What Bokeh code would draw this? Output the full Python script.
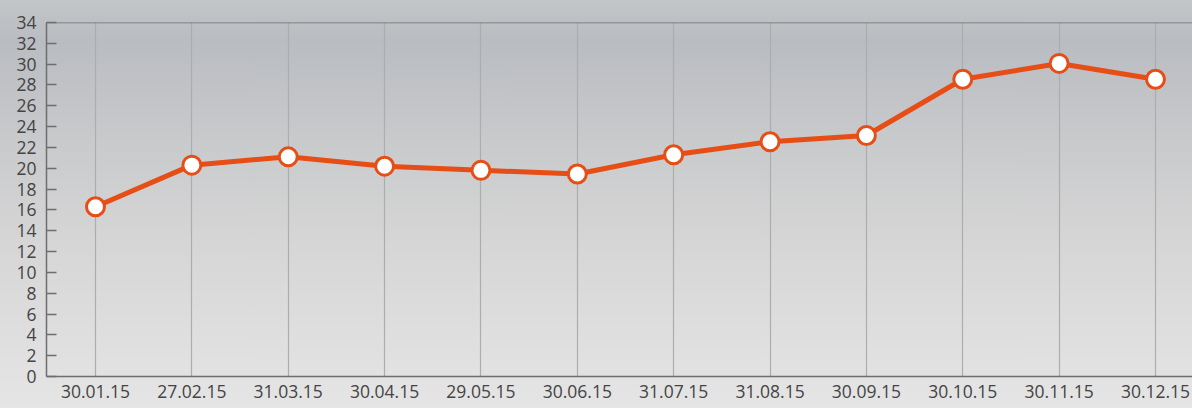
from bokeh.plotting import figure
from bokeh.models import FixedTicker, Span, Range1d, ColumnDataSource
from bokeh.embed import file_html
from bokeh.resources import INLINE

dates = ["30.01.15", "27.02.15", "31.03.15", "30.04.15", "29.05.15", "30.06.15",
         "31.07.15", "31.08.15", "30.09.15", "30.10.15", "30.11.15", "30.12.15"]
values = [16.3, 20.3, 21.1, 20.2, 19.8, 19.45, 21.3, 22.55, 23.15, 28.55, 30.07, 28.55]
y_ticks = list(range(0, 35, 2))

xs = list(range(len(dates)))
src = ColumnDataSource(dict(x=xs, y=values))

FONT = "Open Sans"
ORANGE = "#e64e16"

p = figure(width=1192, height=408, output_backend="svg", toolbar_location=None,
           x_range=Range1d(-0.5085, 11.384), y_range=Range1d(0, 34),
           min_border_left=46, min_border_top=22, min_border_bottom=32, min_border_right=0)
p.styles = {"background": "linear-gradient(to bottom, #c3c6c7 0%, #b9bcc1 10%, #c9cacc 35%, #d6d6d6 60%, #e5e5e5 100%)"}
p.background_fill_alpha = 0
p.border_fill_alpha = 0
p.outline_line_color = None

p.xaxis.ticker = FixedTicker(ticks=xs)
p.xaxis.major_label_overrides = {i: d for i, d in enumerate(dates)}
p.xaxis.major_tick_out = 0
p.xaxis.major_tick_in = 0
p.xaxis.minor_tick_line_color = None
p.xaxis.major_label_standoff = 8

p.yaxis.ticker = FixedTicker(ticks=y_ticks)
p.yaxis.major_tick_in = 10
p.yaxis.major_tick_out = 0
p.yaxis.minor_tick_line_color = None
p.yaxis.major_label_standoff = 10

for ax in (p.xaxis, p.yaxis):
    ax.axis_line_color = "#6e6e6e"
    ax.axis_line_width = 1.5
    ax.major_tick_line_color = "#6e6e6e"
    ax.major_tick_line_width = 1.5
    ax.major_label_text_font = FONT
    ax.major_label_text_font_size = "17.5px"
    ax.major_label_text_color = "#444444"

p.xgrid.ticker = FixedTicker(ticks=xs)
p.xgrid.grid_line_color = "#adadad"
p.xgrid.grid_line_width = 1.2
p.ygrid.grid_line_color = None

p.add_layout(Span(location=34, dimension="width", line_color="#6e6e6e", line_width=1.5))

p.line("x", "y", source=src, line_color=ORANGE, line_width=5)
p.scatter("x", "y", source=src, size=18, fill_color="white", line_color=ORANGE, line_width=3)

open("out.html", "w").write(file_html(p, INLINE))
